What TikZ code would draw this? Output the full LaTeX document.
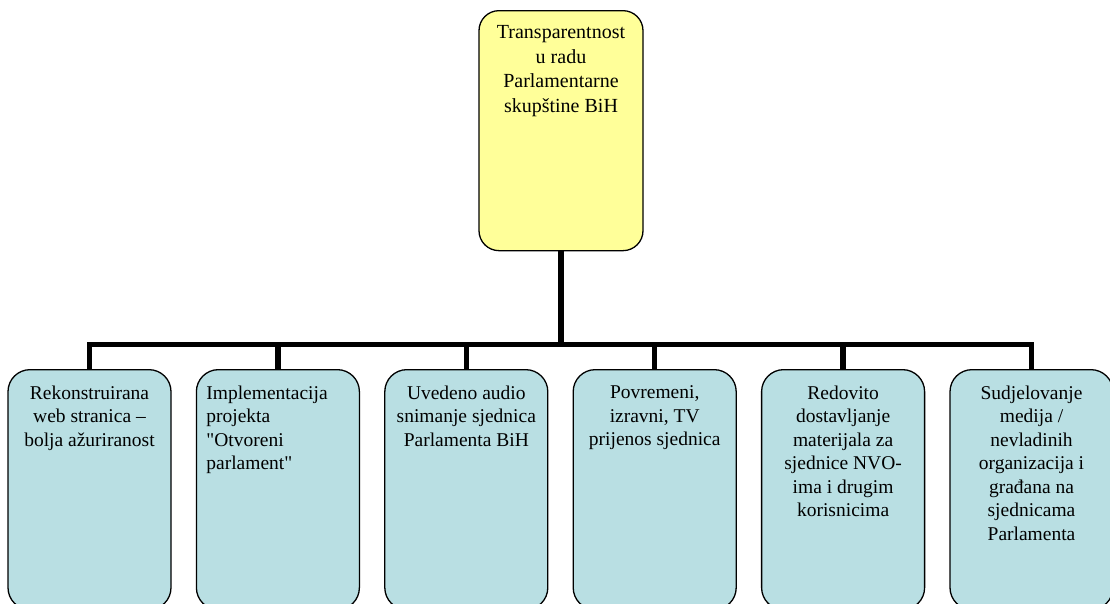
\documentclass[tikz,border=0pt]{standalone}
\usepackage{fontspec}
\setmainfont{Liberation Serif}[Ligatures=TeXOff]
\definecolor{topyellow}{HTML}{FFFF99}
\definecolor{lightteal}{HTML}{B9DFE3}
\newcommand{\mypbox}[2]{\parbox[t][#1][t]{#2}}
\tikzset{
  topbox/.style={draw, line width=1.3pt, rounded corners=20pt, fill=topyellow,
    anchor=north, inner xsep=4pt, inner ysep=15pt,
    font=\fontsize{20}{24.5}\selectfont},
  childbox/.style={draw, line width=1.3pt, rounded corners=22pt, fill=lightteal,
    anchor=north, inner xsep=5pt, inner ysep=16pt,
    font=\fontsize{19.5}{23.5}\selectfont},
  conn/.style={line width=5.5pt, line join=miter}
}
\begin{document}
\begin{tikzpicture}[x=1pt,y=-1pt]
\useasboundingbox (0,0) rectangle (1110,603);
\clip (0,0) rectangle (1110,603);
\node[topbox] (top) at (561,10) {\mypbox{210pt}{156pt}{\centering Transparentnost\\ u radu\\ Parlamentarne\\ skupštine BiH\par}};
\coordinate (bus) at (561,344.5);
\node[childbox] (b1) at (89.5,369) {\mypbox{208pt}{153pt}{\centering Rekonstruirana\\ web stranica –\\ bolja ažuriranost\par}};
\node[childbox] (b2) at (277.9,369) {\mypbox{208pt}{153pt}{\raggedright\leftskip=5pt Implementacija\\ projekta\\ "Otvoreni\\ parlament"\par}};
\node[childbox] (b3) at (466.3,369) {\mypbox{208pt}{153pt}{\centering Uvedeno audio\\ snimanje sjednica\\ Parlamenta BiH\par}};
\node[childbox] (b4) at (654.7,369) {\mypbox{208pt}{153pt}{\centering Povremeni,\\ izravni, TV\\ prijenos sjednica\par}};
\node[childbox] (b5) at (843.1,369) {\mypbox{208pt}{153pt}{\centering Redovito\\ dostavljanje\\ materijala za\\ sjednice NVO-\\ ima i drugim\\ korisnicima\par}};
\node[childbox] (b6) at (1031.5,369) {\mypbox{208pt}{153pt}{\centering Sudjelovanje\\ medija /\\ nevladinih\\ organizacija i\\ građana na\\ sjednicama\\ Parlamenta\par}};
\draw[conn] (top.south) -- (bus);
\draw[conn] (b1.north) |- (bus) -| (b6.north);
\foreach \b in {b2,b3,b4,b5} \draw[conn] (bus -| \b.north) -- (\b.north);
\end{tikzpicture}
\end{document}
